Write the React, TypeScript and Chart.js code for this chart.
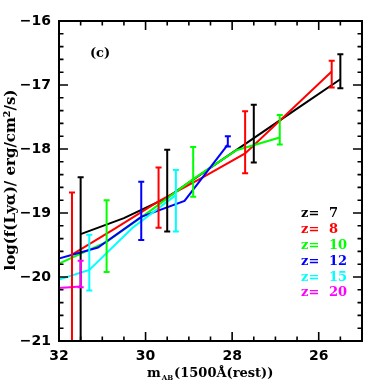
import React, { useEffect, useRef } from "react";
import { Chart, registerables } from "chart.js";

Chart.register(...registerables);

// ---- data ----
const zLabels = ["7", "8", "10", "12", "15", "20"];
const colors = ["#000000", "#ff0000", "#00ff00", "#0000ff", "#00ffff", "#ff00ff"];

// lines: magnitude (x) and log flux (y)
const m7 = [31.5, 30.5, 29.5, 28.5, 27.5, 26.5, 25.5];
const y7 = [-19.33, -19.08, -18.76, -18.29, -17.83, -17.37, -16.91];
const m8 = [31.7, 30.7, 29.7, 28.7, 27.7, 26.7, 25.7];
const y8 = [-19.65, -19.24, -18.82, -18.45, -18.07, -17.43, -16.79];
const m10 = [32.0, 30.9, 29.9, 28.9, 27.9, 26.9];
const y10 = [-19.79, -19.45, -18.97, -18.47, -18.02, -17.82];
const m12 = [32.1, 31.1, 30.1, 29.1, 28.1];
const y12 = [-19.73, -19.54, -19.06, -18.81, -17.93];
const m15 = [32.0, 31.3, 30.3, 29.3];
const y15 = [-20.04, -19.89, -19.23, -18.72];
const m20 = [32.0, 31.5];
const y20 = [-20.17, -20.15];

// error bars: magnitude, upper and lower ends
const bm7 = [31.5, 29.5, 27.5, 25.5];
const bhi7 = [-18.44, -18.01, -17.31, -16.52];
const blo7 = [-22.0, -19.29, -18.21, -17.05];
const bm8 = [31.7, 29.7, 27.7, 25.7];
const bhi8 = [-18.68, -18.29, -17.41, -16.62];
const blo8 = [-22.0, -19.23, -18.38, -17.04];
const bm10 = [30.9, 28.9, 26.9];
const bhi10 = [-18.8, -17.97, -17.47];
const blo10 = [-19.92, -18.745, -17.93];
const bm12 = [30.1, 28.1];
const bhi12 = [-18.51, -17.8];
const blo12 = [-19.42, -17.96];
const bm15 = [31.3, 29.3];
const bhi15 = [-19.34, -18.33];
const blo15 = [-20.21, -19.29];
const bm20 = [31.5];
const bhi20 = [-19.745];
const blo20 = [-20.16];

const xTicks = [32, 30, 28, 26];
const xMin = 25;
const xMax = 32;
const yMin = -21;
const yMax = -16;

const lineM = [m7, m8, m10, m12, m15, m20];
const lineY = [y7, y8, y10, y12, y15, y20];
const barM = [bm7, bm8, bm10, bm12, bm15, bm20];
const barHi = [bhi7, bhi8, bhi10, bhi12, bhi15, bhi20];
const barLo = [blo7, blo8, blo10, blo12, blo15, blo20];

const SERIF = "'DejaVu Serif', serif";

const overlay = {
  id: "overlay",
  afterDatasetsDraw(chart: any) {
    const { ctx, chartArea: a, scales } = chart;
    const x = scales.x;
    const y = scales.y;
    ctx.save();
    ctx.beginPath();
    ctx.rect(a.left, a.top, a.right - a.left, a.bottom - a.top);
    ctx.clip();
    ctx.lineWidth = 2;
    for (let s = 0; s < barM.length; s++) {
      ctx.strokeStyle = colors[s];
      for (let i = 0; i < barM[s].length; i++) {
        const px = x.getPixelForValue(barM[s][i]);
        const pt = y.getPixelForValue(barHi[s][i]);
        const pb = y.getPixelForValue(barLo[s][i]);
        ctx.beginPath();
        ctx.moveTo(px, pt);
        ctx.lineTo(px, pb);
        ctx.moveTo(px - 3, pt);
        ctx.lineTo(px + 3, pt);
        ctx.moveTo(px - 3, pb);
        ctx.lineTo(px + 3, pb);
        ctx.stroke();
      }
    }
    ctx.restore();
  },
  afterDraw(chart: any) {
    const { ctx, chartArea: a, scales } = chart;
    const x = scales.x;
    const y = scales.y;
    ctx.save();
    // frame
    ctx.strokeStyle = "#000";
    ctx.lineWidth = 2;
    ctx.strokeRect(a.left, a.top, a.right - a.left, a.bottom - a.top);
    // ticks on all four sides
    ctx.lineWidth = 1.6;
    ctx.beginPath();
    for (let i = 0; i <= 14; i++) {
      const v = xMin + i * 0.5;
      const major = Math.abs(v % 2) < 1e-6;
      const len = major ? 9 : 4.5;
      const px = x.getPixelForValue(v);
      ctx.moveTo(px, a.bottom);
      ctx.lineTo(px, a.bottom - len);
      ctx.moveTo(px, a.top);
      ctx.lineTo(px, a.top + len);
    }
    for (let i = 0; i <= 25; i++) {
      const v = yMin + i * 0.2;
      const major = i % 5 === 0;
      const len = major ? 9 : 4.5;
      const py = y.getPixelForValue(v);
      ctx.moveTo(a.left, py);
      ctx.lineTo(a.left + len, py);
      ctx.moveTo(a.right, py);
      ctx.lineTo(a.right - len, py);
    }
    ctx.stroke();

    // panel label
    ctx.fillStyle = "#000";
    ctx.font = `bold 13px ${SERIF}`;
    ctx.textAlign = "center";
    ctx.textBaseline = "middle";
    ctx.fillText("(c)", 100, 54);

    // legend
    ctx.textAlign = "left";
    ctx.font = `bold 13px ${SERIF}`;
    for (let i = 0; i < zLabels.length; i++) {
      const ly = 214 + i * 15.8;
      ctx.fillStyle = colors[i];
      ctx.fillText("z=", 301, ly);
      ctx.fillText(zLabels[i], 329, ly);
    }

    // x title: m_AB(1500Å(rest))
    ctx.fillStyle = "#000";
    ctx.textBaseline = "alphabetic";
    ctx.font = `bold 13px ${SERIF}`;
    let tx = 147;
    ctx.fillText("m", tx, 377);
    tx += ctx.measureText("m").width + 1;
    ctx.font = `bold 7px ${SERIF}`;
    ctx.fillText("AB", tx, 380);
    tx += ctx.measureText("AB").width + 1;
    ctx.font = `bold 13px ${SERIF}`;
    ctx.fillText("(1500Å(rest))", tx, 377);

    // y title
    ctx.save();
    ctx.translate(11, 180);
    ctx.rotate(-Math.PI / 2);
    ctx.textAlign = "center";
    ctx.textBaseline = "middle";
    ctx.font = `bold 15px ${SERIF}`;
    ctx.fillText("log(f(Lyα)/ erg/cm²/s)", 0, 0);
    ctx.restore();

    ctx.restore();
  },
};

export default function App() {
  const ref = useRef<HTMLCanvasElement | null>(null);
  useEffect(() => {
    if (!ref.current) return;
    const datasets = lineM.map((ms, s) => ({
      label: "z=" + zLabels[s],
      data: ms.map((m, i) => ({ x: m, y: lineY[s][i] })),
      borderColor: colors[s],
      backgroundColor: colors[s],
      borderWidth: 2,
      pointRadius: 0,
      tension: 0,
      fill: false,
      clip: 0,
      order: lineM.length - s,
    }));
    const tickFont = { family: "'DejaVu Sans', sans-serif", size: 14, weight: "bold" as const };
    const chart = new Chart(ref.current, {
      type: "line",
      data: { datasets },
      options: {
        responsive: false,
        devicePixelRatio: 1,
        animation: false,
        parsing: true,
        layout: { padding: { left: 0, top: 21, right: 20, bottom: 0 } },
        plugins: { legend: { display: false }, tooltip: { enabled: false } },
        scales: {
          x: {
            type: "linear",
            min: xMin,
            max: xMax,
            reverse: true,
            position: "bottom",
            grid: { display: false, drawTicks: false },
            border: { display: false },
            afterBuildTicks: (s: any) => {
              s.ticks = xTicks.map((v) => ({ value: v }));
            },
            afterFit: (s: any) => {
              s.height = 41;
            },
            ticks: {
              autoSkip: false,
              maxRotation: 0,
              padding: 7,
              color: "#000",
              font: tickFont,
              callback: (v: any) => String(v),
            },
          },
          y: {
            type: "linear",
            min: yMin,
            max: yMax,
            grid: { display: false, drawTicks: false },
            border: { display: false },
            afterFit: (s: any) => {
              s.width = 59;
            },
            ticks: {
              stepSize: 1,
              padding: 8,
              color: "#000",
              font: tickFont,
              callback: (v: any) => (v < 0 ? "\u2212" : "") + Math.abs(Number(v)),
            },
          },
        },
      },
      plugins: [overlay],
    });
    return () => chart.destroy();
  }, []);
  return (
    <div style={{ position: "fixed", left: 0, top: 0, width: 382, height: 382, background: "#fff" }}>
      <canvas ref={ref} width={382} height={382} style={{ width: 382, height: 382, display: "block" }} />
    </div>
  );
}
